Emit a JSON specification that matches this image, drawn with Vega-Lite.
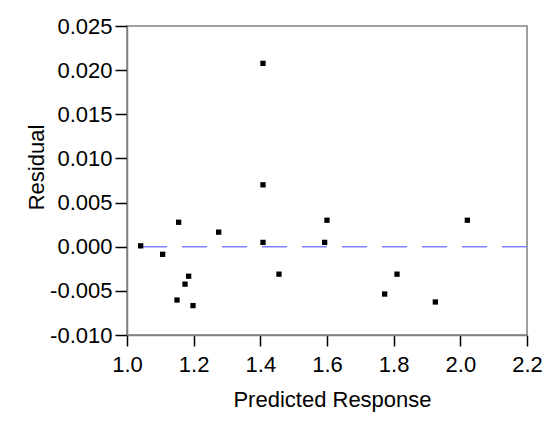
{
  "$schema": "https://vega.github.io/schema/vega-lite/v6.json",
  "width": 400,
  "height": 309,
  "autosize": {"type": "none"},
  "padding": {"left": 127, "top": 26, "right": 19, "bottom": 91},
  "background": "white",
  "config": {
    "view": {"stroke": "#808080", "strokeWidth": 1.5},
    "font": "Liberation Sans",
    "axis": {
      "grid": false,
      "domainColor": "#808080",
      "domainWidth": 1.5,
      "tickColor": "black",
      "tickWidth": 1.5,
      "labelColor": "black",
      "titleColor": "black",
      "labelFont": "Liberation Sans",
      "titleFont": "Liberation Sans",
      "labelFontSize": 22,
      "titleFontSize": 22,
      "titleFontWeight": "normal"
    }
  },
  "data": {
    "values": [
      {"pred": 1.041, "resid": 0.0001},
      {"pred": 1.107, "resid": -0.00086},
      {"pred": 1.155, "resid": 0.00277},
      {"pred": 1.150, "resid": -0.00604},
      {"pred": 1.174, "resid": -0.00424},
      {"pred": 1.185, "resid": -0.00334},
      {"pred": 1.198, "resid": -0.00667},
      {"pred": 1.275, "resid": 0.00165},
      {"pred": 1.408, "resid": 0.02077},
      {"pred": 1.408, "resid": 0.00701},
      {"pred": 1.408, "resid": 0.00049},
      {"pred": 1.456, "resid": -0.00311},
      {"pred": 1.600, "resid": 0.0030},
      {"pred": 1.593, "resid": 0.00049},
      {"pred": 1.773, "resid": -0.00536},
      {"pred": 1.810, "resid": -0.00311},
      {"pred": 1.925, "resid": -0.00626},
      {"pred": 2.021, "resid": 0.0030}
    ]
  },
  "layer": [
    {
      "data": {"values": [{"zero": 0}]},
      "mark": {"type": "rule", "color": "#8080ff", "strokeWidth": 1.5, "strokeDash": [25, 15]},
      "encoding": {
        "y": {"field": "zero", "type": "quantitative", "scale": {"domain": [-0.010, 0.025], "nice": false, "zero": false}}
      }
    },
    {
      "mark": {"type": "point", "shape": "square", "filled": true, "color": "black", "opacity": 1, "size": 28},
      "encoding": {
        "x": {
          "field": "pred", "type": "quantitative",
          "scale": {"domain": [1.0, 2.2], "nice": false, "zero": false},
          "axis": {
            "title": "Predicted Response",
            "values": [1.0, 1.2, 1.4, 1.6, 1.8, 2.0, 2.2],
            "format": ".1f",
            "tickSize": 11,
            "labelPadding": 8,
            "labelFlush": false,
            "labelOverlap": false,
            "titleX": 205,
            "titleY": 71,
            "titleBaseline": "alphabetic"
          }
        },
        "y": {
          "field": "resid", "type": "quantitative",
          "scale": {"domain": [-0.010, 0.025], "nice": false, "zero": false},
          "axis": {
            "title": "Residual",
            "values": [-0.010, -0.005, 0.0, 0.005, 0.010, 0.015, 0.020, 0.025],
            "format": ".3f",
            "labelExpr": "replace(datum.label, '\u2212', '-')",
            "tickSize": 12,
            "labelPadding": 3,
            "labelFlush": false,
            "labelOverlap": false,
            "titleX": -84,
            "titleY": 141,
            "titleAngle": -90,
            "titleBaseline": "alphabetic"
          }
        }
      }
    }
  ]
}
